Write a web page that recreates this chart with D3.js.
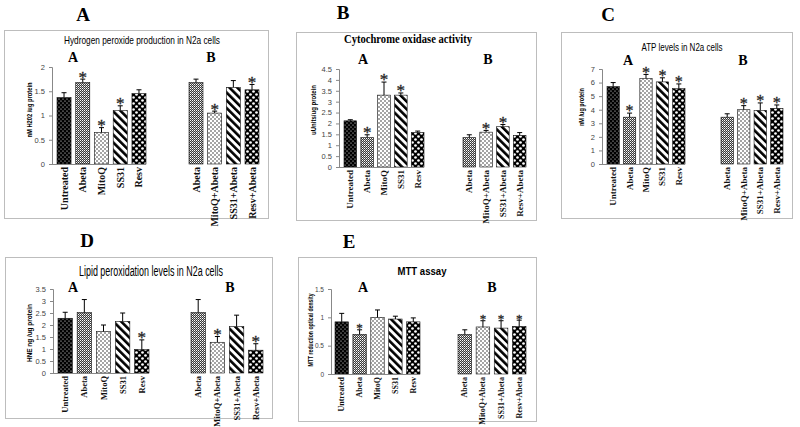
<!DOCTYPE html>
<html><head><meta charset="utf-8">
<script src="https://cdn.jsdelivr.net/npm/d3@7"></script>
<style>body{margin:0;background:#fff}svg{display:block}.star{opacity:0.99}</style>
</head><body><svg id="c" width="800" height="427"></svg>
<script>
// ---------- DATA ----------
const groupA = ["Untreated","Abeta","MitoQ","SS31","Resv"];
const groupB = ["Abeta","MitoQ+Abeta","SS31+Abeta","Resv+Abeta"];
const patternA = ["untreated","abeta","mitoq","ss31","resv"];
const patternB = ["abeta","mitoq","ss31","resv"];

// Panel A: hydrogen peroxide
const h2o2A = [1.37,1.68,0.65,1.10,1.45];
const h2o2AErr = [0.10,0.07,0.10,0.10,0.08];
const h2o2B = [1.68,1.05,1.58,1.53];
const h2o2BErr = [0.07,0.04,0.14,0.11];
const h2o2StarA = [0,1,1,1,0];
const h2o2StarB = [0,1,0,1];
const h2o2Ticks = [0,0.5,1,1.5,2];

// Panel B: cytochrome oxidase
const coxA = [2.12,1.35,3.30,3.30,1.58];
const coxAErr = [0.05,0.13,0.60,0.10,0.07];
const coxB = [1.35,1.60,1.85,1.45];
const coxBErr = [0.13,0.08,0.10,0.13];
const coxStarA = [0,1,1,1,0];
const coxStarB = [0,1,1,0];
const coxTicks = [0,0.5,1,1.5,2,2.5,3,3.5,4,4.5];

// Panel C: ATP
const atpA = [5.70,3.45,6.30,6.05,5.55];
const atpAErr = [0.30,0.30,0.30,0.30,0.35];
const atpB = [3.45,4.00,3.95,4.10];
const atpBErr = [0.25,0.30,0.55,0.25];
const atpStarA = [0,1,1,1,1];
const atpStarB = [0,1,1,1];
const atpTicks = [0,1,2,3,4,5,6,7];

// Panel D: lipid peroxidation
const hneA = [2.28,2.52,1.73,2.15,0.98];
const hneAErr = [0.25,0.54,0.27,0.35,0.40];
const hneB = [2.52,1.28,1.93,0.95];
const hneBErr = [0.54,0.24,0.48,0.27];
const hneStarA = [0,0,0,0,1];
const hneStarB = [0,1,0,1];
const hneTicks = [0,0.5,1,1.5,2,2.5,3,3.5];

// Panel E: MTT
const mttA = [0.92,0.70,1.00,0.97,0.92];
const mttAErr = [0.15,0.08,0.13,0.05,0.07];
const mttB = [0.70,0.83,0.81,0.84];
const mttBErr = [0.08,0.11,0.13,0.11];
const mttStarA = [0,1,0,0,0];
const mttStarB = [0,1,1,1];
const mttTicks = [0,0.5,1,1.5];

// ---------- DRAW ----------
const svg = d3.select("#c");
const defs = svg.append("defs");
function pat(id, w, h, build, transform) {
  const p = defs.append("pattern").attr("id", id).attr("patternUnits","userSpaceOnUse")
    .attr("width", w).attr("height", h);
  if (transform) p.attr("patternTransform", transform);
  build(p);
}
pat("untreated", 4, 4, p => {
  p.append("rect").attr("width",4).attr("height",4).attr("fill","#000");
  p.append("circle").attr("cx",1).attr("cy",1).attr("r",0.6).attr("fill","#fff");
  p.append("circle").attr("cx",3).attr("cy",3).attr("r",0.6).attr("fill","#fff");
});
pat("abeta", 2, 2, p => {
  p.append("rect").attr("width",2).attr("height",2).attr("fill","#3a3a3a");
  p.append("rect").attr("width",1).attr("height",1).attr("fill","#fff");
  p.append("rect").attr("x",1).attr("y",1).attr("width",1).attr("height",1).attr("fill","#b0b0b0");
});
pat("mitoq", 4, 4, p => {
  p.append("rect").attr("width",4).attr("height",4).attr("fill","#fff");
  p.append("circle").attr("cx",1).attr("cy",1).attr("r",0.8).attr("fill","#333");
  p.append("circle").attr("cx",3).attr("cy",3).attr("r",0.8).attr("fill","#333");
});
pat("ss31", 5.5, 5.5, p => {
  p.append("rect").attr("width",5.5).attr("height",5.5).attr("fill","#fff");
  p.append("rect").attr("width",2.6).attr("height",5.5).attr("fill","#000");
}, "rotate(-45)");
pat("resv", 6, 6, p => {
  p.append("rect").attr("width",6).attr("height",6).attr("fill","#000");
  p.append("circle").attr("cx",1.5).attr("cy",1.5).attr("r",1.35).attr("fill","#fff");
  p.append("circle").attr("cx",4.5).attr("cy",4.5).attr("r",1.35).attr("fill","#fff");
});

const SERIF = "'Liberation Serif','Times New Roman',serif";
const SANS = "'Liberation Sans',Arial,sans-serif";
const NARROW = "'Liberation Sans Narrow','Arial Narrow','Liberation Sans',sans-serif";

const panels = [
  { letter:"A", letterPos:[83,21], box:[4,30,268,218],
    title:"Hydrogen  peroxide production in N2a cells", titleFont:NARROW, titleWeight:"normal", titleSize:11, titlePos:[142,44], titleLen:156,
    subA:[73,62], subB:[211,62], axisX:52, y0:164, yTop:67, max:2, ticks:h2o2Ticks,
    xA:[57,146], xB:[189,259], yTitle:"nM H202 /ug protein", yTitlePos:[29,110], yTitleLen:55, labelSize:10, starSize:17,
    A:h2o2A, AErr:h2o2AErr, B:h2o2B, BErr:h2o2BErr, starA:h2o2StarA, starB:h2o2StarB, tickSize:7.5 },
  { letter:"B", letterPos:[343,19], box:[296,32,536,220],
    title:"Cytochrome oxidase activity", titleFont:SERIF, titleWeight:"bold", titleSize:12, titlePos:[408,43], titleLen:128,
    subA:[363,64], subB:[488,64], axisX:339, y0:167, yTop:69, max:4.5, ticks:coxTicks,
    xA:[344,424], xB:[463,526], yTitle:"uUnits/ug protein", yTitlePos:[313,110], yTitleLen:50, labelSize:9, starSize:17,
    A:coxA, AErr:coxAErr, B:coxB, BErr:coxBErr, starA:coxStarA, starB:coxStarB, tickSize:7.5 },
  { letter:"C", letterPos:[608,21], box:[561,32,792,218],
    title:"ATP levels in N2a cells", titleFont:NARROW, titleWeight:"normal", titleSize:11, titlePos:[682,51], titleLen:81,
    subA:[628,65], subB:[743,65], axisX:602, y0:164, yTop:69, max:7, ticks:atpTicks,
    xA:[607,685], xB:[721,783], yTitle:"nM /ug protein", yTitlePos:[581,107], yTitleLen:38, labelSize:9, starSize:16,
    A:atpA, AErr:atpAErr, B:atpB, BErr:atpBErr, starA:atpStarA, starB:atpStarB, tickSize:7.5 },
  { letter:"D", letterPos:[87,247], box:[5,257,272,418],
    title:"Lipid peroxidation levels in N2a cells", titleFont:NARROW, titleWeight:"normal", titleSize:14, titlePos:[151,276], titleLen:144,
    subA:[73,292], subB:[230,292], axisX:53, y0:373, yTop:289, max:3.5, ticks:hneTicks,
    xA:[58,149], xB:[191,263], yTitle:"HNE ng /ug protein", yTitlePos:[29,333], yTitleLen:58, labelSize:8.5, starSize:17,
    A:hneA, AErr:hneAErr, B:hneB, BErr:hneBErr, starA:hneStarA, starB:hneStarB, tickSize:7.5 },
  { letter:"E", letterPos:[349,248], box:[298,257,536,421],
    title:"MTT assay", titleFont:SANS, titleWeight:"bold", titleSize:10, titlePos:[422,275], titleLen:49,
    subA:[363,292], subB:[492,292], axisX:331, y0:374, yTop:289, max:1.5, ticks:mttTicks,
    xA:[335,420], xB:[458,526], yTitle:"MTT reduction optical density", yTitlePos:[310,330], yTitleLen:73, labelSize:8, starSize:13,
    A:mttA, AErr:mttAErr, B:mttB, BErr:mttBErr, starA:mttStarA, starB:mttStarB, tickSize:6.5 }
];

function drawGroup(g, cfg, y, cats, vals, errs, stars, pats, range) {
  const x = d3.scaleBand().domain(cats).range(range).paddingInner(0.25).paddingOuter(0);
  const bw = x.bandwidth();
  const data = cats.map((c,i)=>({c, v:vals[i], e:errs[i], s:stars[i], p:pats[i]}));
  g.selectAll(null).data(data).enter().append("rect")
    .attr("x", d=>x(d.c)).attr("y", d=>y(d.v)).attr("width", bw).attr("height", d=>y(0)-y(d.v))
    .attr("fill", d=>`url(#${d.p})`).attr("stroke","#111").attr("stroke-width",0.6);
  g.selectAll(null).data(data).enter().append("line")
    .attr("x1", d=>x(d.c)+bw/2).attr("x2", d=>x(d.c)+bw/2)
    .attr("y1", d=>y(d.v)).attr("y2", d=>y(d.v+d.e)).attr("stroke","#000").attr("stroke-width",1);
  g.selectAll(null).data(data).enter().append("line")
    .attr("x1", d=>x(d.c)+bw/2-2.5).attr("x2", d=>x(d.c)+bw/2+2.5)
    .attr("y1", d=>y(d.v+d.e)).attr("y2", d=>y(d.v+d.e)).attr("stroke","#000").attr("stroke-width",1);
  g.selectAll(null).data(data.filter(d=>d.s)).enter().append("text")
    .attr("class","star")
    .attr("x", d=>x(d.c)+bw/2).attr("y", d=>y(d.v+d.e)+cfg.starSize*0.2)
    .attr("text-anchor","middle").attr("font-family",SERIF).attr("font-size",cfg.starSize)
    .attr("fill","#222").attr("stroke","#222").attr("stroke-width",0.3).text("*");
  g.selectAll(null).data(data).enter().append("text")
    .attr("transform", d=>`translate(${x(d.c)+bw/2},${y(0)+3}) rotate(-90)`)
    .attr("text-anchor","end").attr("dominant-baseline","central")
    .attr("font-family",SERIF).attr("font-weight","bold").attr("font-size",cfg.labelSize).attr("fill","#111")
    .text(d=>d.c);
  return x;
}

panels.forEach(cfg => {
  const g = svg.append("g");
  const [bx0,by0,bx1,by1] = cfg.box;
  g.append("rect").attr("x",bx0+0.5).attr("y",by0+0.5).attr("width",bx1-bx0).attr("height",by1-by0)
    .attr("fill","none").attr("stroke","#bdbdbd").attr("stroke-width",1);
  g.append("text").attr("x",cfg.letterPos[0]).attr("y",cfg.letterPos[1]).attr("text-anchor","middle")
    .attr("font-family",SERIF).attr("font-weight","bold").attr("font-size",19).attr("fill","#000").text(cfg.letter);
  g.append("text").attr("x",cfg.titlePos[0]).attr("y",cfg.titlePos[1]).attr("text-anchor","middle")
    .attr("font-family",cfg.titleFont).attr("font-weight",cfg.titleWeight).attr("font-size",cfg.titleSize)
    .attr("textLength",cfg.titleLen).attr("lengthAdjust","spacingAndGlyphs").attr("fill","#000").text(cfg.title);
  [["A",cfg.subA],["B",cfg.subB]].forEach(([t,p]) => {
    g.append("text").attr("x",p[0]).attr("y",p[1]).attr("text-anchor","middle")
      .attr("font-family",SERIF).attr("font-weight","bold").attr("font-size",14).attr("fill","#000").text(t);
  });
  const y = d3.scaleLinear().domain([0,cfg.max]).range([cfg.y0,cfg.yTop]);
  const ax = g.append("g").attr("transform",`translate(${cfg.axisX},0)`)
    .call(d3.axisLeft(y).tickValues(cfg.ticks).tickSize(3).tickPadding(4).tickFormat(d=>String(d)));
  ax.select(".domain").attr("stroke","#888");
  ax.selectAll(".tick line").attr("stroke","#888");
  ax.selectAll(".tick text").attr("font-family",SANS).attr("font-size",cfg.tickSize).attr("fill","#444");
  g.append("text").attr("transform",`translate(${cfg.yTitlePos[0]},${cfg.yTitlePos[1]}) rotate(-90)`)
    .attr("text-anchor","middle").attr("dominant-baseline","central")
    .attr("font-family",SANS).attr("font-weight","bold").attr("font-size",7.5)
    .attr("textLength",cfg.yTitleLen).attr("lengthAdjust","spacingAndGlyphs").attr("fill","#000").text(cfg.yTitle);
  drawGroup(g, cfg, y, groupA, cfg.A, cfg.AErr, cfg.starA, patternA, cfg.xA);
  drawGroup(g, cfg, y, groupB, cfg.B, cfg.BErr, cfg.starB, patternB, cfg.xB);
  g.append("line").attr("x1",cfg.axisX).attr("x2",cfg.xA[1]).attr("y1",y(0)+0.5).attr("y2",y(0)+0.5)
    .attr("stroke","#888").attr("stroke-width",1);
});
</script>
</body></html>
